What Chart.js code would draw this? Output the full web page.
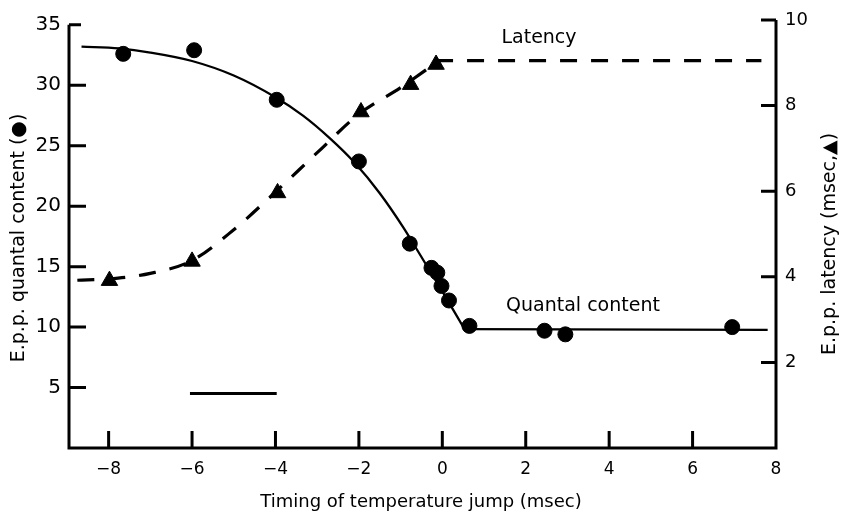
<!DOCTYPE html>
<html>
<head>
<meta charset="utf-8">
<script src="https://cdn.jsdelivr.net/npm/chart.js@4.4.0/dist/chart.umd.min.js"></script>
<style>
body { margin: 0; background: #fff; }
#wrap { width: 842px; height: 513px; }
</style>
</head>
<body>
<div id="wrap"><canvas id="chart"></canvas></div>
<script>
// measured points: quantal content (left axis)
const quantalX = [-7.65, -5.95, -3.97, -2.0, -0.78, -0.26, -0.12, -0.02, 0.16, 0.65, 2.45, 2.95, 6.95];
const quantalY = [32.6, 32.9, 28.8, 23.7, 16.9, 14.9, 14.5, 13.4, 12.2, 10.1, 9.7, 9.4, 10.0];

// measured points: latency (right axis)
const latencyX = [-7.98, -6.0, -3.95, -1.95, -0.76, -0.15];
const latencyY = [3.91, 4.36, 5.96, 7.85, 8.49, 8.96];

// drawn curve through the quantal content points
const quantalFitX = [-8.65, -7.75, -7, -6, -5, -4, -3.34, -2.7, -2.1, -1.5, -0.94, -0.62, 0, 0.53];
const quantalFitY = [33.2, 33.05, 32.71, 32.01, 30.81, 29.01, 27.49, 25.63, 23.59, 21.07, 18.27, 16.48, 12.95, 9.84];
const quantalFlatX = [0.53, 7.8];
const quantalFlatY = [9.84, 9.77];

// dashed curve through the latency points
const latencyFitX = [-8.75, -8, -7, -6, -5, -4, -3, -2, -1, -0.15];
const latencyFitY = [3.92, 3.95, 4.08, 4.38, 5.1, 5.98, 6.9, 7.8, 8.42, 9.0];
const latencyFlatX = [-0.15, 7.65];
const latencyFlatY = [9.05, 9.05];

// short bar under the curves
const barX = [-6.05, -3.97];
const barY = [4.5, 4.5];

const xTicks = [-8, -6, -4, -2, 0, 2, 4, 6, 8];
const leftTicks = [5, 10, 15, 20, 25, 30, 35];
const rightTicks = [2, 4, 6, 8, 10];

const font = "DejaVu Sans";

const pts = (xs, ys) => xs.map((x, i) => ({ x: x, y: ys[i] }));
const minusLabel = (v) => (v < 0 ? "\u2212" + Math.abs(v) : String(v));

// axis lines with inward ticks, plus the text labels
const framePlugin = {
	id: "frame",
	afterDraw(chart) {
		const { ctx, chartArea, scales } = chart;
		const x = scales.x, yl = scales.yLeft, yr = scales.yRight;
		const left = chartArea.left, right = chartArea.right, bottom = chartArea.bottom;
		ctx.save();
		ctx.strokeStyle = "#000";
		ctx.lineWidth = 3;
		ctx.beginPath();
		ctx.moveTo(left, yl.getPixelForValue(35));
		ctx.lineTo(left, bottom);
		ctx.lineTo(right, bottom);
		ctx.lineTo(right, yr.getPixelForValue(10));
		ctx.stroke();

		ctx.beginPath();
		leftTicks.forEach((v) => {
			const p = yl.getPixelForValue(v);
			ctx.moveTo(left, p);
			ctx.lineTo(left + (v === 35 ? 12 : 17), p);
		});
		xTicks.forEach((v) => {
			if (v === 8) return;
			const p = x.getPixelForValue(v);
			ctx.moveTo(p, bottom);
			ctx.lineTo(p, bottom - 17);
		});
		rightTicks.forEach((v) => {
			const p = yr.getPixelForValue(v);
			ctx.moveTo(right, p);
			ctx.lineTo(right - 15, p);
		});
		ctx.stroke();

		ctx.fillStyle = "#000";
		ctx.font = "19px '" + font + "'";
		ctx.textAlign = "center";
		ctx.textBaseline = "alphabetic";
		ctx.fillText("Latency", 539, 43);
		ctx.fillText("Quantal content", 583, 311);

		ctx.font = "18px '" + font + "'";
		ctx.fillText("Timing of temperature jump (msec)", 421, 507);

		ctx.textBaseline = "middle";
		ctx.font = "19px '" + font + "'";
		ctx.save();
		ctx.translate(19, 238);
		ctx.rotate(-Math.PI / 2);
		ctx.fillText("E.p.p. quantal content (\u25CF)", 0, 0);
		ctx.restore();
		ctx.save();
		ctx.translate(830, 244);
		ctx.rotate(-Math.PI / 2);
		ctx.fillText("E.p.p. latency (msec,\u25B2)", 0, 0);
		ctx.restore();
		ctx.restore();
	},
};

const lineSet = (data, axis, width, dash) => ({
	data: data,
	yAxisID: axis,
	showLine: true,
	borderColor: "#000",
	borderWidth: width,
	borderDash: dash,
	pointRadius: 0,
	cubicInterpolationMode: "monotone",
	fill: false,
});

new Chart(document.getElementById("chart"), {
	type: "scatter",
	data: {
		datasets: [
			lineSet(pts(quantalFitX, quantalFitY), "yLeft", 2.3, []),
			lineSet(pts(quantalFlatX, quantalFlatY), "yLeft", 2.3, []),
			lineSet(pts(latencyFitX, latencyFitY), "yRight", 3.2, [17, 14]),
			lineSet(pts(latencyFlatX, latencyFlatY), "yRight", 3.2, [17, 14]),
			lineSet(pts(barX, barY), "yLeft", 3, []),
			{
				label: "Quantal content",
				data: pts(quantalX, quantalY),
				yAxisID: "yLeft",
				pointStyle: "circle",
				pointRadius: 7.5,
				backgroundColor: "#000",
				borderColor: "#000",
			},
			{
				label: "Latency",
				data: pts(latencyX, latencyY),
				yAxisID: "yRight",
				pointStyle: "triangle",
				pointRadius: 9.5,
				backgroundColor: "#000",
				borderColor: "#000",
			},
		],
	},
	options: {
		responsive: true,
		maintainAspectRatio: false,
		animation: false,
		layout: { padding: { top: 16, left: 0, right: 0, bottom: 0 } },
		plugins: { legend: { display: false }, tooltip: { enabled: false } },
		scales: {
			x: {
				type: "linear",
				min: -8.95,
				max: 8,
				grid: { display: false, drawTicks: false },
				border: { display: false },
				afterBuildTicks: (s) => { s.ticks = xTicks.map((v) => ({ value: v })); },
				afterFit: (s) => { s.height = 65; },
				ticks: {
					color: "#000",
					padding: 11,
					font: { family: font, size: 17 },
					callback: minusLabel,
				},
			},
			yLeft: {
				type: "linear",
				position: "left",
				min: 0,
				max: 35.4,
				grid: { display: false, drawTicks: false },
				border: { display: false },
				afterBuildTicks: (s) => { s.ticks = leftTicks.map((v) => ({ value: v })); },
				afterFit: (s) => { s.width = 69; },
				ticks: { color: "#000", padding: 8, font: { family: font, size: 20 } },
			},
			yRight: {
				type: "linear",
				position: "right",
				min: 0,
				max: 10,
				grid: { display: false, drawTicks: false },
				border: { display: false },
				afterBuildTicks: (s) => { s.ticks = rightTicks.map((v) => ({ value: v })); },
				afterFit: (s) => { s.width = 66; },
				ticks: { color: "#000", padding: 9, font: { family: font, size: 18 } },
			},
		},
	},
	plugins: [framePlugin],
});
</script>
</body>
</html>
